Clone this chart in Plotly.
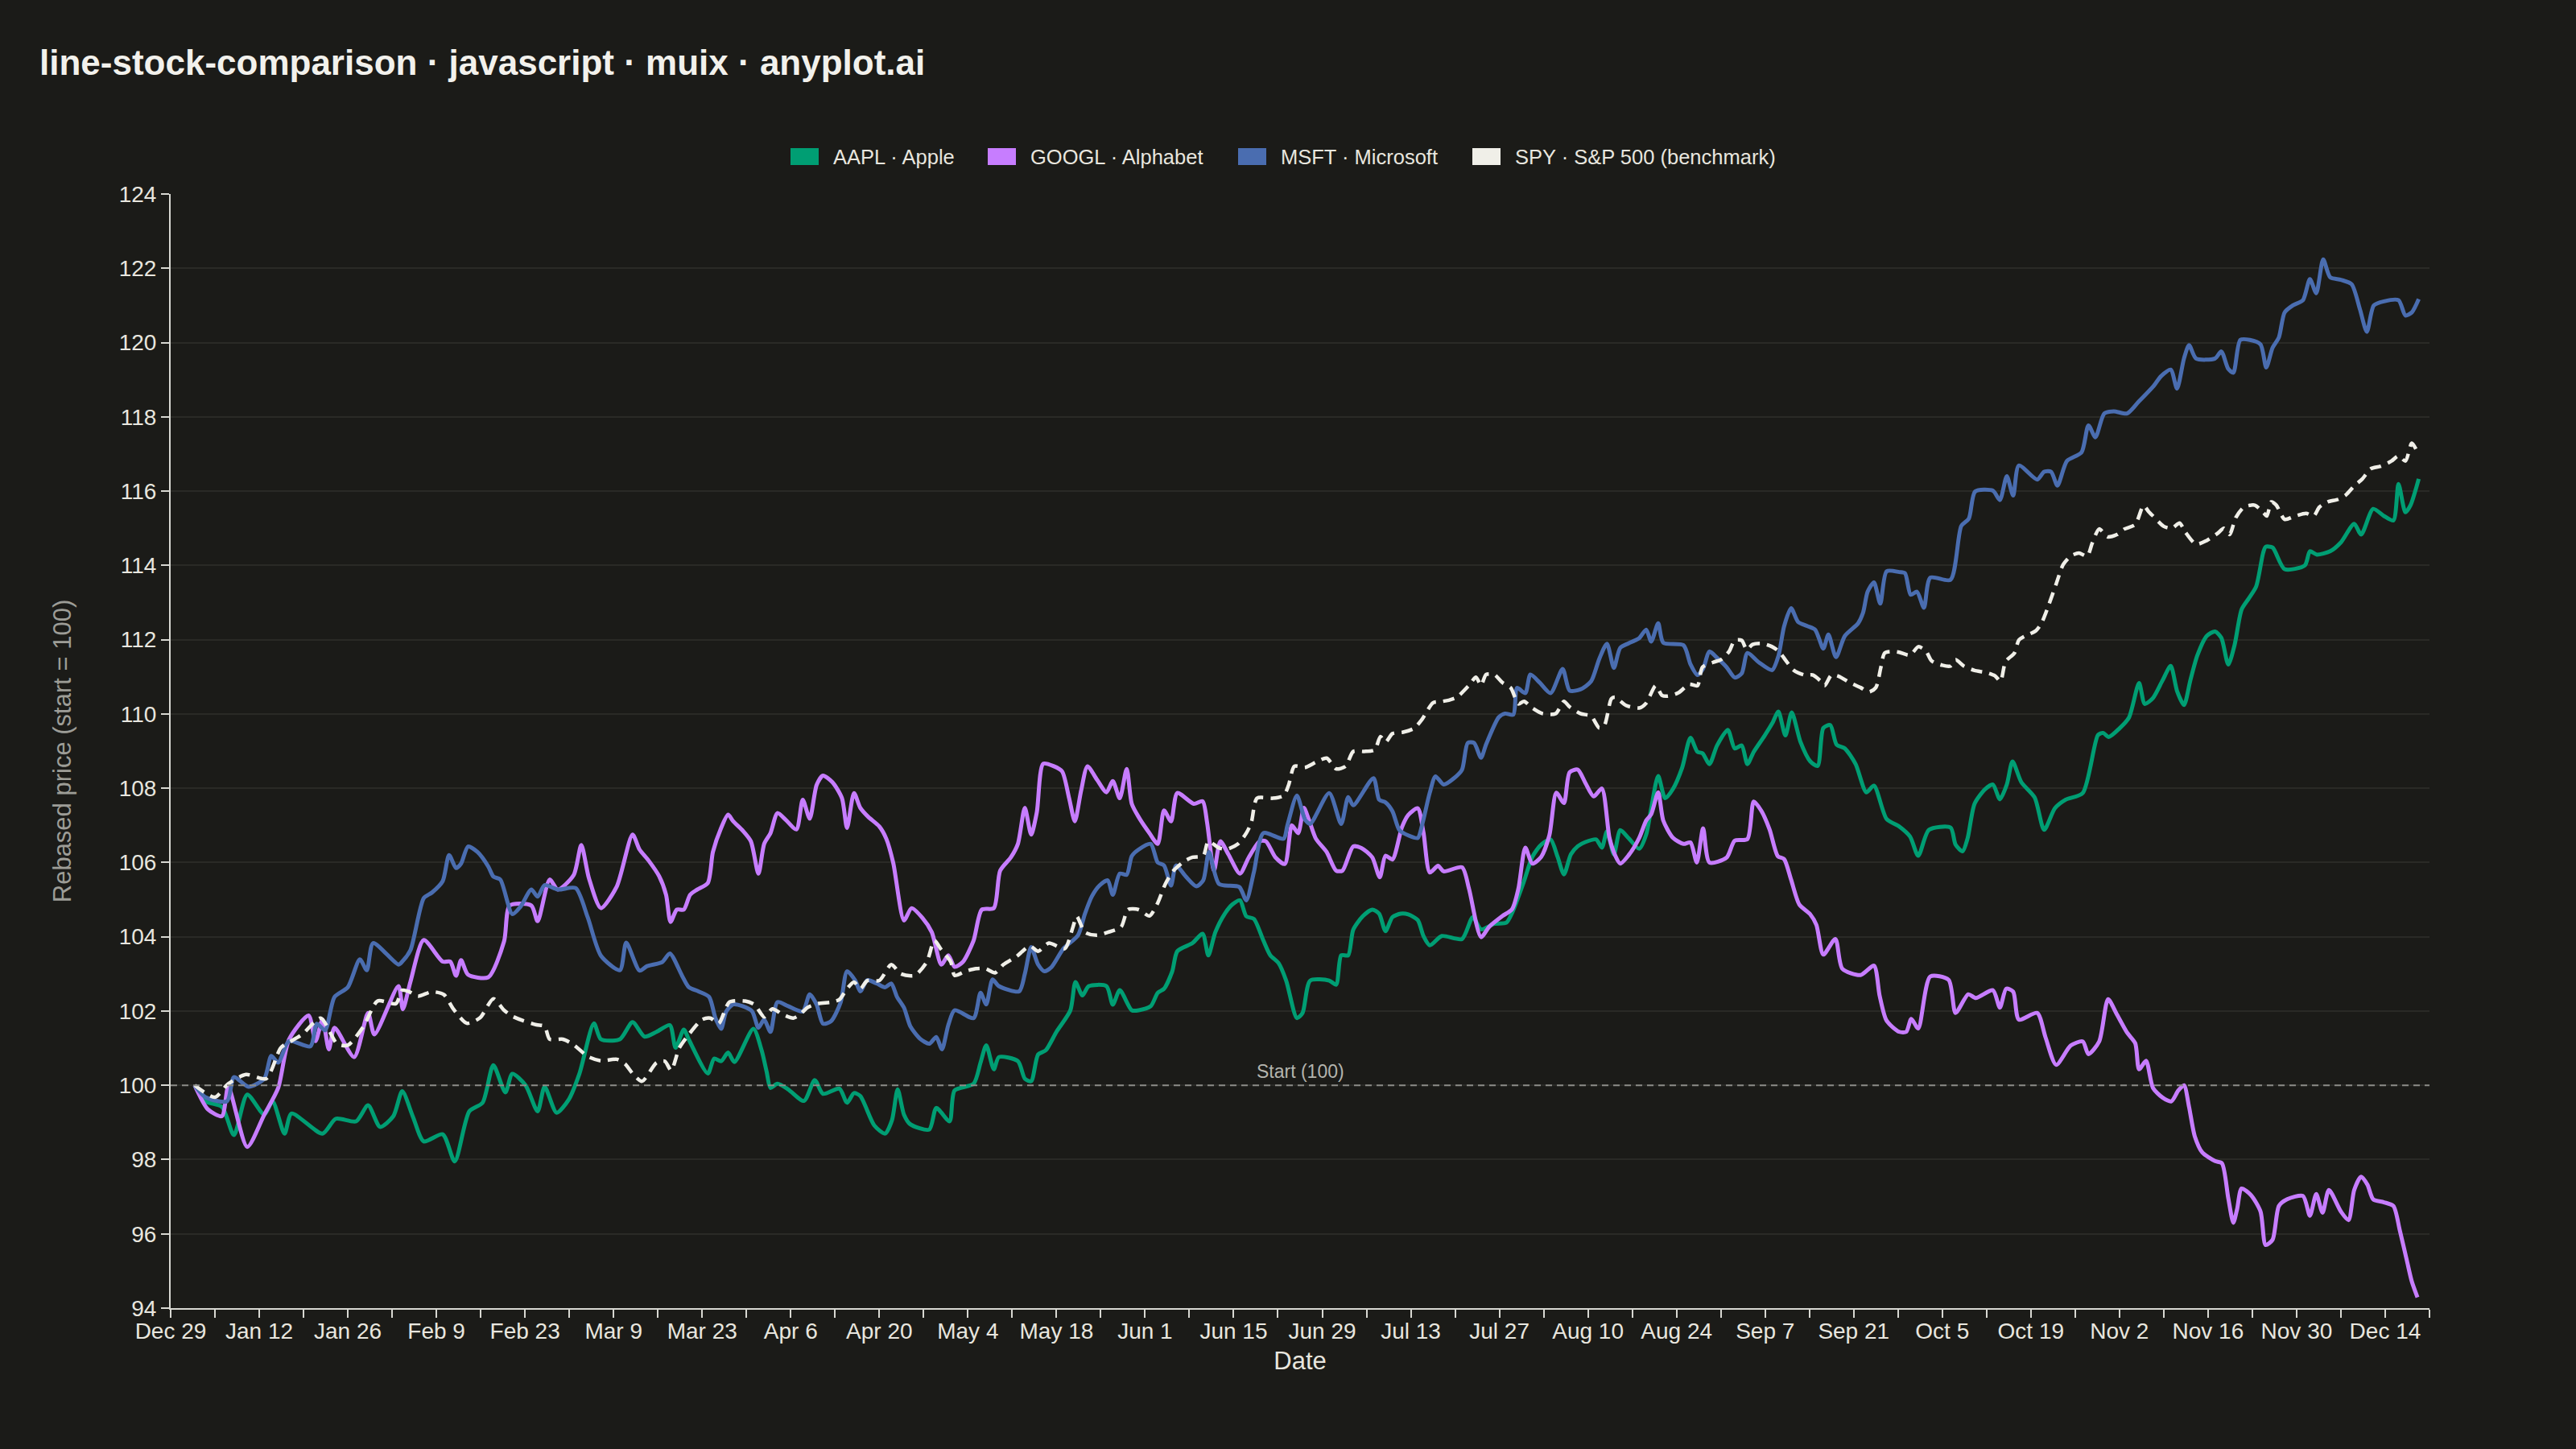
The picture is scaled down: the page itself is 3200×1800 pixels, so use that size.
import pandas as pd
import plotly.graph_objects as go

# day offsets are days since 2025-12-29 (first axis tick), values are rebased prices
start = pd.Timestamp("2025-12-29")

aapl_day = [3.8, 5.5, 8.1, 10.0, 12.1, 14.8, 16.1, 18.0, 19.1, 24.0, 26.1, 29.3, 31.2, 33.1, 35.2,
            36.6, 38.3, 40.0, 43.0, 44.9, 47.2, 49.3, 51.0, 52.9, 54.0, 56.1, 58.0, 59.1, 61.0, 62.9,
            64.6, 66.9, 68.0, 71.0,
            73.0, 74.9, 76.8, 78.9, 79.8, 81.1, 81.9, 84.9, 85.9, 87.0, 88.1, 89.1, 92.1, 93.4, 94.2,
            94.8, 95.9, 97.6, 100.1, 101.8, 103.1, 105.7, 106.9, 108.0, 109.0, 111.2,
            112.9, 114.0, 114.9, 115.9, 116.9, 119.9, 121.0, 123.1, 123.9, 126.9, 128.0, 128.9, 130.1,
            130.9, 133.9, 135.0, 136.0, 137.1, 138.3, 140.0, 142.2, 143.0, 144.1, 145.1, 147.9, 148.9,
            150.0, 151.9,
            153.0, 154.9, 156.0, 157.0, 158.3, 159.1, 161.5, 163.1, 164.0, 165.1, 166.6, 167.8, 169.0,
            170.0, 171.2, 172.7, 173.8, 175.1, 176.3, 178.0, 178.9, 180.1, 183.1, 184.2, 185.0, 186.1,
            186.9, 188.4, 189.9, 191.0, 192.0,
            193.1, 194.4, 195.6, 197.1, 198.0, 199.0, 200.9, 204.1, 205.8, 207.1, 209.2, 211.1, 212.0,
            213.9, 215.2, 216.6, 218.1, 219.2, 220.2, 221.3, 222.4, 223.6, 225.3, 226.2, 227.0, 228.1,
            229.1, 230.4, 232.1,
            233.2, 234.0, 235.1, 236.2, 237.4, 238.9, 240.2, 241.3, 242.1, 243.2, 244.4, 246.1, 247.2,
            248.3, 249.2, 250.2, 251.9, 253.1, 254.1, 255.2, 256.2, 257.6, 259.1, 260.3, 261.2, 262.3,
            263.3, 264.6, 266.3, 268.0, 269.2, 271.2,
            273.2, 274.9, 276.2, 277.9, 281.3, 282.1, 283.2, 284.0, 285.1, 286.8, 288.0, 289.1, 290.2,
            291.1, 292.5, 294.6, 296.1, 297.8, 299.5, 302.2, 304.6, 305.4, 306.3, 308.0, 309.5, 311.1,
            312.0,
            313.3, 314.8, 316.1, 317.1, 318.2, 319.2, 320.3, 321.8, 323.1, 324.1, 325.2, 326.2, 327.3,
            328.4, 329.6, 330.7, 331.1, 332.2, 334.1, 337.3, 338.1, 339.2, 341.3, 343.0, 345.1, 346.2,
            348.1, 349.8, 351.3, 352.1, 353.2, 354.0, 355.3]
aapl_val = [100.0, 99.57, 99.42, 98.66, 99.75, 99.21, 99.57, 98.70, 99.24, 98.70, 99.10, 99.03, 99.46, 98.88, 99.17,
            99.84, 99.15, 98.49, 98.68, 97.95, 99.30, 99.53, 100.54, 99.81, 100.31, 100.0, 99.30, 99.96, 99.26, 99.61,
            100.31, 101.67, 101.24, 101.24,
            101.70, 101.31, 101.44, 101.62, 101.01, 101.50, 101.23, 100.32, 100.72, 100.65, 100.88, 100.63, 101.52, 100.94, 100.36,
            99.93, 100.04, 99.89, 99.58, 100.14, 99.77, 99.91, 99.53, 99.79, 99.71, 98.92,
            98.70, 99.06, 99.89, 99.21, 98.95, 98.81, 99.39, 99.03, 99.86, 100.04, 100.61, 101.08, 100.43,
            100.76, 100.65, 100.18, 100.11, 100.83, 100.94, 101.44, 102.02, 102.78, 102.42, 102.67, 102.67, 102.17,
            102.56, 102.02,
            102.02, 102.13, 102.49, 102.60, 103.07, 103.61, 103.83, 104.08, 103.50, 104.12, 104.62, 104.87, 104.98,
            104.55, 104.48, 103.90, 103.50, 103.29, 102.82, 101.81, 101.95, 102.82, 102.82, 102.71, 103.50, 103.50,
            104.19, 104.55, 104.73, 104.62, 104.15,
            104.53, 104.62, 104.60, 104.45, 104.02, 103.77, 104.02, 103.94, 104.53, 104.20, 104.35, 104.38, 104.64,
            105.50, 106.15, 106.48, 106.62, 106.15, 105.68, 106.22, 106.44, 106.55, 106.62, 106.40, 106.84, 106.22,
            106.87, 106.66, 106.37,
            106.75, 107.46, 108.33, 107.73, 107.97, 108.56, 109.36, 108.98, 108.94, 108.65, 109.15, 109.57, 109.07,
            109.15, 108.65, 108.98, 109.41, 109.74, 110.06, 109.42, 110.04, 109.24, 108.73, 108.60, 109.62, 109.70,
            109.17, 109.07, 108.65, 107.89, 108.07, 107.17,
            106.97, 106.70, 106.18, 106.88, 106.94, 106.48, 106.30, 106.65, 107.58, 107.98, 108.10, 107.70, 108.10,
            108.72, 108.16, 107.75, 106.88, 107.46, 107.69, 107.87, 109.43, 109.49, 109.38, 109.61, 109.90, 110.83,
            110.27,
            110.43, 110.90, 111.29, 110.62, 110.24, 110.90, 111.57, 112.10, 112.22, 112.05, 111.33, 111.86, 112.81,
            113.10, 113.43, 114.33, 114.50, 114.48, 113.90, 114.00, 114.38, 114.29, 114.38, 114.62, 115.12, 114.83,
            115.52, 115.33, 115.21, 116.19, 115.43, 115.62, 116.33]

googl_day = [3.8, 5.9, 8.1, 9.1, 12.1, 14.8, 17.0, 18.7, 21.8, 22.9, 24.0, 25.0, 25.9, 29.0, 31.2, 32.2, 36.0,
             36.7, 37.9, 40.0, 43.0, 44.2, 45.1, 45.9, 47.0, 50.2, 52.7, 53.6, 57.0, 58.0, 59.9, 61.2, 63.7,
             64.9, 66.1, 68.0, 70.5,
             73.0, 74.1, 75.5, 77.2, 78.3, 79.0, 80.0, 81.1, 82.1, 83.2, 84.9, 85.7, 87.0, 88.1, 88.9, 90.4,
             91.7, 92.9, 93.8, 94.8, 95.9, 97.2, 98.9, 99.9, 101.0, 102.1, 103.1, 104.6, 106.1, 106.9, 108.0,
             109.0, 110.3, 112.0, 113.1,
             114.2, 115.9, 117.1, 118.8, 120.3, 121.8, 122.9, 123.9, 125.2, 126.9, 128.2, 130.1, 131.1, 132.8,
             133.9, 135.0, 136.0, 136.9, 137.9, 139.6, 140.9, 142.0, 142.9, 143.9, 144.9, 146.4, 147.9, 148.9,
             150.0, 151.1, 151.9,
             153.0, 154.7, 156.0, 157.0, 158.1, 159.1, 161.7, 163.1, 163.8, 164.9, 165.9, 167.2, 169.0, 170.4,
             172.1, 173.1, 174.6, 176.1, 177.2, 178.2, 179.1, 179.9, 181.0, 182.7, 184.2, 185.2, 186.9, 188.2,
             189.9, 191.1, 192.0,
             193.1, 194.6, 195.6, 197.1, 198.0, 199.0, 200.3, 201.2, 204.1, 205.2, 207.1, 208.4, 210.5, 212.0,
             213.0, 214.1, 215.2, 216.6, 217.9, 219.0, 220.2, 221.1, 222.4, 223.6, 224.9, 226.2, 227.4, 228.3,
             229.1, 230.4, 232.1,
             233.2, 234.0, 235.1, 235.9, 237.4, 239.1, 240.2, 241.2, 242.2, 243.2, 245.9, 247.2, 249.2, 250.2,
             251.4, 252.7, 254.0, 255.0, 256.1, 257.4, 259.1, 260.1, 261.2, 263.1, 264.2, 267.1, 269.2, 270.1,
             271.2,
             273.2, 274.3, 275.1, 276.2, 278.1, 281.0, 282.1, 284.1, 285.3, 288.0, 289.1, 290.1, 291.2, 292.1,
             295.0, 296.3, 298.0, 300.3, 302.2, 303.1, 304.8, 306.2, 307.5, 309.2, 310.5, 311.1, 312.2,
             313.3, 314.8, 316.2, 317.3, 318.2, 319.0, 319.9, 321.1, 323.1, 324.2, 325.2, 326.0, 326.6, 327.3,
             328.8, 330.3, 331.1, 332.2, 333.2, 334.5, 337.0, 338.1, 339.1, 340.1, 341.1, 343.0, 344.2, 345.1,
             346.2, 347.2, 348.1, 349.8, 351.3, 352.3, 353.4, 354.2, 355.1]
googl_val = [100.0, 99.35, 99.17, 99.96, 98.34, 99.21, 99.93, 101.23, 101.88, 101.19, 101.77, 100.97, 101.55, 100.76, 101.95, 101.37, 102.67,
             102.05, 102.79, 103.91, 103.33, 103.33, 102.95, 103.37, 102.98, 102.91, 103.88, 104.84, 104.84, 104.42, 105.54, 105.27, 105.66,
             106.47, 105.58, 104.77, 105.35,
             106.75, 106.35, 106.06, 105.63, 105.13, 104.40, 104.73, 104.73, 105.13, 105.27, 105.45, 106.28, 106.93, 107.29, 107.11, 106.86,
             106.57, 105.70, 106.50, 106.79, 107.33, 107.15, 106.89, 107.69, 107.18, 108.09, 108.34, 108.16, 107.73, 106.93, 107.87,
             107.47, 107.22, 106.97, 106.64,
             105.99, 104.44, 104.77, 104.51, 104.12, 103.25, 103.50, 103.19, 103.32, 103.90, 104.73, 104.77, 105.78, 106.14,
             106.50, 107.47, 106.75, 107.36, 108.66, 108.59, 108.45, 107.73, 107.11, 107.94, 108.59, 108.23, 107.89, 108.19,
             107.73, 108.52, 107.58,
             107.22, 106.79, 106.50, 107.40, 107.11, 107.87, 107.58, 107.65, 107.08, 105.78, 106.57, 106.21, 105.70, 106.14,
             106.57, 106.57, 106.14, 105.96, 107.00, 106.79, 107.47, 107.15, 106.64, 106.28, 105.78, 105.78, 106.43, 106.39,
             106.14, 105.60, 106.18,
             106.08, 106.95, 107.28, 107.46, 106.81, 105.73, 105.91, 105.76, 105.87, 105.29, 103.99, 104.27, 104.56, 104.74,
             105.29, 106.40, 105.97, 106.15, 106.73, 107.88, 107.60, 108.43, 108.50, 108.14, 107.78, 107.99, 106.66, 106.19,
             105.97, 106.19, 106.66,
             107.13, 107.30, 107.89, 107.13, 106.67, 106.50, 106.54, 106.00, 106.92, 106.00, 106.13, 106.59, 106.63, 107.64,
             107.39, 106.89, 106.17, 106.09, 105.54, 104.87, 104.61, 104.32, 103.52, 103.94, 103.14, 102.97, 103.22, 102.41,
             101.74,
             101.44, 101.44, 101.79, 101.53, 102.93, 102.84, 101.95, 102.45, 102.35, 102.56, 102.09, 102.60, 102.52, 101.77,
             101.95, 101.30, 100.55, 101.07, 101.18, 100.84, 101.18, 102.32, 101.94, 101.42, 101.13, 100.43, 100.66,
             99.93, 99.67, 99.57, 99.86, 100.00, 99.42, 98.63, 98.19, 97.96, 97.90, 96.96, 96.30, 96.67, 97.22,
             97.04, 96.60, 95.70, 95.84, 96.75, 96.93, 97.02, 96.49, 97.07, 96.57, 97.18, 96.60, 96.37, 97.18,
             97.54, 97.32, 96.93, 96.85, 96.75, 96.10, 95.30, 94.72, 94.29]

msft_day = [3.8, 5.5, 8.9, 10.0, 12.3, 14.8, 15.9, 17.0, 18.7, 22.1, 23.1, 24.4, 25.9, 28.0, 29.9, 31.0, 32.0, 36.0,
            36.6, 37.9, 40.0, 41.3, 43.0, 44.0, 45.1, 45.9, 47.0, 48.5, 50.2, 51.0, 52.1, 54.0, 55.3, 57.0, 58.0,
            59.1, 61.2, 64.0, 65.9, 68.0, 71.0, 72.0,
            74.1, 75.3, 77.7, 78.9, 80.8, 81.9, 83.4, 85.1, 86.1, 87.0, 87.8, 88.9, 90.4, 91.9, 92.9, 93.8, 94.8,
            95.9, 97.6, 99.9, 101.0, 102.1, 103.1, 104.4, 105.9, 106.9, 108.2, 109.0, 110.1, 111.6,
            112.9, 113.9, 114.8, 115.9, 116.9, 118.4, 119.9, 121.0, 121.9, 122.9, 123.9, 126.9, 128.0, 128.9,
            129.9, 130.9, 134.1, 135.0, 136.0, 137.1, 138.1, 139.2, 141.1, 143.4, 144.5, 145.6, 146.8, 148.1,
            148.9, 150.0, 151.1, 151.9,
            153.0, 154.9, 156.0, 157.0, 158.1, 158.9, 160.4, 162.1, 163.2, 164.1, 165.7, 168.9, 170.0, 171.2,
            172.7, 175.9, 176.5, 178.0, 179.3, 180.1, 183.1, 185.0, 186.1, 186.9, 190.1, 191.0, 192.0,
            193.1, 194.2, 195.6, 197.1, 197.8, 199.0, 199.9, 201.2, 202.9, 204.1, 205.0, 206.0, 207.1, 207.9,
            209.9, 210.9, 212.2, 212.8, 214.1, 214.9, 216.4, 218.1, 220.0, 221.1, 222.8, 224.5, 225.8, 227.0,
            228.1, 229.1, 230.8, 232.1,
            233.2, 234.0, 235.1, 235.9, 239.1, 240.2, 241.3, 242.2, 243.2, 244.4, 245.9, 247.2, 248.3, 249.2,
            251.0, 253.1, 254.1, 255.0, 256.1, 257.2, 258.6, 259.9, 261.2, 262.0, 263.2, 264.6, 266.7, 267.5,
            268.2, 269.2, 270.2, 271.2,
            273.2, 274.1, 275.0, 276.0, 277.1, 278.1, 281.3, 283.0, 284.2, 285.2, 288.0, 289.1, 290.2, 291.2,
            292.1, 295.0, 296.1, 297.2, 298.2, 299.7, 302.0, 303.1, 304.2, 305.6, 307.1, 309.2, 311.0,
            313.3, 314.6, 316.1, 317.1, 318.2, 319.0, 320.1, 323.1, 324.1, 325.2, 326.0, 327.1, 328.6, 330.3,
            331.2, 332.2, 333.2, 334.1, 335.4, 337.0, 338.1, 339.1, 340.2, 341.3, 343.0, 344.7, 346.0, 347.1,
            348.2, 349.8, 352.1, 353.2, 354.2, 355.3]
msft_val = [100.0, 99.68, 99.57, 100.22, 99.96, 100.18, 100.79, 100.61, 101.19, 101.05, 101.66, 101.48, 102.38, 102.64, 103.39, 103.10, 103.83, 103.25,
            103.33, 103.64, 105.04, 105.19, 105.50, 106.20, 105.85, 105.97, 106.43, 106.28, 105.89, 105.62, 105.54, 104.61, 104.81, 105.27, 105.08,
            105.39, 105.27, 105.31, 104.53, 103.49, 103.10, 103.84,
            103.09, 103.21, 103.32, 103.55, 102.96, 102.64, 102.53, 102.38, 101.81, 101.52, 101.99, 102.18, 102.13, 101.99, 101.55, 101.77, 101.44,
            102.24, 102.13, 101.99, 102.45, 102.17, 101.66, 101.73, 102.24, 103.07, 102.82, 102.53, 102.83, 102.74,
            102.64, 102.74, 102.38, 102.09, 101.59, 101.26, 101.12, 101.30, 100.97, 101.62, 102.02, 101.81, 102.49, 102.18,
            102.85, 102.67, 102.53, 103.00, 103.72, 103.25, 103.07, 103.18, 103.68, 104.04, 104.62, 105.09, 105.38, 105.52,
            105.13, 105.70, 105.67, 106.17,
            106.35, 106.50, 106.00, 105.92, 105.38, 105.92, 105.63, 105.36, 105.52, 106.28, 105.42, 105.34, 104.98, 105.74,
            106.79, 106.64, 107.00, 107.80, 107.15, 107.04, 107.87, 107.04, 107.76, 107.54, 108.27, 107.69, 107.62,
            107.38, 106.87, 106.73, 106.66, 107.02, 107.88, 108.32, 108.10, 108.28, 108.50, 109.22, 109.22, 108.82, 109.18,
            109.91, 110.01, 109.98, 110.70, 110.56, 111.06, 110.84, 110.56, 111.21, 110.63, 110.66, 110.88, 111.49, 111.89,
            111.24, 111.78, 111.93, 112.04,
            112.27, 111.95, 112.44, 111.92, 111.85, 111.34, 111.05, 111.22, 111.68, 111.51, 111.26, 110.98, 111.09, 111.64,
            111.39, 111.18, 111.56, 112.36, 112.85, 112.48, 112.37, 112.27, 111.76, 112.14, 111.53, 112.10, 112.44, 112.74,
            113.29, 113.54, 112.97, 113.84,
            113.82, 113.79, 113.21, 113.29, 112.86, 113.67, 113.61, 115.06, 115.26, 115.99, 116.01, 115.76, 116.40, 115.88,
            116.69, 116.31, 116.52, 116.52, 116.15, 116.81, 117.04, 117.77, 117.45, 118.09, 118.15, 118.09, 118.40,
            118.81, 119.10, 119.27, 118.76, 119.57, 119.93, 119.57, 119.57, 119.76, 119.29, 119.19, 120.07, 120.07, 119.95,
            119.33, 119.86, 120.14, 120.81, 121.00, 121.14, 121.71, 121.33, 122.24, 121.76, 121.69, 121.57, 120.90, 120.29,
            121.00, 121.11, 121.14, 120.73, 120.81, 121.17]

spy_day = [3.8, 7.0, 9.1, 11.9, 15.1, 17.4, 18.7, 20.8, 23.7, 26.3, 28.0, 30.5, 32.7, 35.6,
           36.6, 37.7, 39.1, 41.3, 43.2, 44.7, 46.8, 48.9, 51.0, 52.7, 54.0, 55.7, 57.8, 59.1, 59.9, 62.0,
           63.7, 65.9, 68.0, 70.5, 71.8,
           73.0, 74.5, 76.8, 78.1, 79.1, 80.4, 81.9, 84.0, 85.3, 86.6, 88.3, 90.8, 92.3, 93.8, 95.1, 96.7,
           98.4, 99.5, 100.6, 102.3, 104.4, 105.7, 106.9, 108.0, 109.0, 110.1, 112.0,
           113.9, 115.4, 117.6, 119.5, 120.7, 121.8, 123.3, 123.9, 125.6, 127.3, 128.8, 130.3, 131.6, 133.7,
           135.8, 137.1, 138.8, 141.3, 142.6, 143.2, 144.5, 146.4, 148.1, 150.2, 151.3,
           153.0, 154.7, 156.0, 157.2, 158.5, 160.2, 161.5, 163.2, 164.0, 165.7, 167.0, 168.7, 170.0, 170.8,
           171.7, 174.2, 175.9, 176.7, 177.6, 179.3, 181.0, 182.7, 184.2, 185.7, 186.9, 188.6, 190.3, 191.2,
           192.0,
           193.1, 194.8, 196.5, 197.8, 199.5, 200.7, 202.0, 203.3, 205.2, 206.3, 207.1, 207.9, 209.2, 210.5,
           211.8, 213.0, 213.9, 215.2, 216.8, 218.9, 220.2, 221.1, 222.8, 224.5, 225.8, 226.6, 227.7, 228.3,
           230.0, 232.1,
           233.2, 234.7, 235.7, 236.6, 238.3, 240.0, 241.3, 242.1, 243.8, 245.1, 246.3, 247.2, 248.3, 249.1,
           250.0, 251.4, 253.1, 254.2, 255.3, 256.5, 258.2, 259.5, 260.8, 261.4, 262.5, 263.7, 265.4, 267.1,
           268.4, 269.5, 270.3, 270.9, 272.2,
           273.2, 274.9, 276.2, 277.4, 278.3, 280.0, 281.3, 282.1, 283.4, 285.1, 286.8, 288.3, 289.2, 290.0,
           291.4, 292.1, 293.1, 294.8, 295.7, 296.9, 298.0, 299.1, 300.3, 301.6, 302.9, 303.7, 304.8, 306.1,
           307.6, 308.8, 310.5, 311.8, 312.6,
           313.3, 315.0, 316.3, 317.5, 318.4, 320.1, 321.8, 323.5, 324.5, 325.4, 326.4, 327.7, 329.4, 330.7,
           331.3, 332.0, 332.8, 334.1, 335.8, 337.5, 338.7, 339.6, 340.9, 342.6, 343.8, 345.1, 346.4, 347.7,
           349.3, 351.0, 352.1, 353.2, 354.2, 355.1]
spy_val = [100.0, 99.68, 100.04, 100.29, 100.18, 101.01, 101.16, 101.37, 101.81, 101.12, 101.08, 101.59, 102.27, 102.20,
           102.56, 102.52, 102.40, 102.52, 102.44, 102.05, 101.67, 101.82, 102.33, 102.02, 101.86, 101.74, 101.63, 101.59, 101.24, 101.24,
           101.09, 100.78, 100.66, 100.70, 100.58,
           100.32, 100.11, 100.61, 100.65, 100.40, 101.01, 101.37, 101.77, 101.81, 101.66, 102.24, 102.27, 102.17, 101.84, 102.06, 101.91,
           101.81, 101.91, 102.09, 102.20, 102.24, 102.31, 102.60, 102.78, 102.60, 102.82, 102.82,
           103.25, 103.00, 102.96, 103.32, 103.90, 103.65, 103.32, 102.96, 103.07, 103.14, 103.14, 103.03, 103.25, 103.47,
           103.75, 103.61, 103.83, 103.68, 104.26, 104.55, 104.12, 104.04, 104.12, 104.26, 104.73,
           104.73, 104.56, 104.91, 105.42, 105.78, 106.03, 106.14, 106.18, 106.57, 106.39, 106.36, 106.50, 106.79, 107.08,
           107.73, 107.73, 107.80, 108.09, 108.59, 108.56, 108.70, 108.81, 108.52, 108.59, 108.99, 108.99, 109.03, 109.39,
           109.24,
           109.47, 109.51, 109.61, 109.86, 110.30, 110.33, 110.37, 110.45, 110.77, 110.99, 110.77, 111.06, 111.06, 110.84,
           110.70, 110.27, 110.34, 110.16, 110.01, 110.01, 110.34, 110.19, 110.01, 109.94, 109.62, 109.69, 110.41, 110.45,
           110.23, 110.16,
           110.29, 110.76, 110.50, 110.48, 110.57, 110.80, 110.76, 111.26, 111.39, 111.47, 111.68, 111.98, 111.98, 111.73,
           111.87, 111.90, 111.81, 111.68, 111.43, 111.18, 111.05, 111.05, 110.88, 110.76, 111.05, 111.01, 110.84, 110.71,
           110.59, 110.71, 111.26, 111.64, 111.68,
           111.66, 111.58, 111.81, 111.70, 111.43, 111.31, 111.29, 111.46, 111.29, 111.17, 111.12, 111.03, 110.88, 111.41,
           111.64, 111.99, 112.10, 112.24, 112.45, 112.97, 113.50, 114.02, 114.25, 114.33, 114.25, 114.60, 114.98, 114.77,
           114.83, 114.98, 115.10, 115.61, 115.45,
           115.33, 115.05, 115.00, 115.14, 114.90, 114.57, 114.67, 114.86, 115.00, 114.83, 115.29, 115.57, 115.62, 115.43,
           115.33, 115.71, 115.62, 115.24, 115.33, 115.40, 115.33, 115.57, 115.71, 115.78, 115.90, 116.14, 116.33, 116.60,
           116.67, 116.81, 116.95, 116.81, 117.29, 117.05]

names = ["AAPL · Apple", "GOOGL · Alphabet", "MSFT · Microsoft", "SPY · S&P 500 (benchmark)"]
colors = ["#009e73", "#c77dff", "#4a6db0", "#f0efe8"]
series = [(aapl_day, aapl_val), (googl_day, googl_val), (msft_day, msft_val), (spy_day, spy_val)]

BG = "#1b1b18"
FONT = "Liberation Sans, Arial, sans-serif"
W, H = 3200, 1800
ML, MR, MT, MB = 212, 182, 241, 175


def px_x(x):
    return (x - ML) / (W - ML - MR)


def px_y(y):
    return (H - MB - y) / (H - MT - MB)


fig = go.Figure()

for name, color, (days, vals) in zip(names, colors, series):
    dates = start + pd.to_timedelta(days, unit="D")
    is_spy = name.startswith("SPY")
    fig.add_trace(go.Scatter(
        x=dates, y=vals, mode="lines", name=name, showlegend=False,
        line=dict(color=color, width=4.5 if is_spy else 5, shape="spline", smoothing=0.7,
                  dash="14px,9px" if is_spy else "solid"),
        hoverinfo="skip",
    ))

# legend drawn by hand so the swatches can be wide rectangles
legend_left = [982, 1227, 1538, 1829]
for left, name, color in zip(legend_left, names, colors):
    fig.add_shape(type="rect", xref="paper", yref="paper",
                  x0=px_x(left), x1=px_x(left + 35), y0=px_y(205), y1=px_y(184),
                  fillcolor=color, line=dict(width=0))
    fig.add_annotation(xref="paper", yref="paper", x=px_x(left + 51), y=px_y(195),
                       xanchor="left", yanchor="middle", showarrow=False, text=name,
                       font=dict(size=25.5, color="#e8e6df", family=FONT))

fig.add_hline(y=100, line=dict(color="#8c8c88", width=2, dash="8px,6px"))
fig.add_annotation(x=0.5, xref="paper", y=100, yref="y", text="Start (100)", showarrow=False,
                   yanchor="bottom", yshift=2, font=dict(size=23, color="#b4b4ae", family=FONT))

fig.update_layout(
    width=W, height=H, autosize=False,
    paper_bgcolor=BG, plot_bgcolor=BG,
    margin=dict(l=ML, r=MR, t=MT, b=MB),
    font=dict(family=FONT, color="#e8e6df", size=28),
    title=dict(text="<b>line-stock-comparison · javascript · muix · anyplot.ai</b>",
               x=49 / W, xanchor="left", xref="container",
               y=1 - 78 / H, yanchor="middle", yref="container",
               font=dict(size=44, color="#f2f1ec", family=FONT)),
    showlegend=False,
)

fig.update_xaxes(
    range=["2025-12-29", "2026-12-21"],
    type="date", tick0="2025-12-29", dtick=14 * 86400000, tickformat="%b %-d",
    showgrid=False, zeroline=False,
    showline=True, linecolor="#d8d8d2", linewidth=2,
    ticks="outside", ticklen=10, tickwidth=2, tickcolor="#d8d8d2",
    ticklabelstandoff=-8,
    tickfont=dict(size=28, color="#e8e6df"),
    minor=dict(dtick=7 * 86400000, tick0="2025-12-29", ticks="outside", ticklen=10,
               tickwidth=2, tickcolor="#d8d8d2", showgrid=False),
    title=dict(text="Date", font=dict(size=31, color="#e8e6df"), standoff=12),
)

fig.update_yaxes(
    range=[94, 124], dtick=2, tick0=94,
    showgrid=True, gridcolor="#2a2a26", gridwidth=2, zeroline=False,
    showline=True, linecolor="#d8d8d2", linewidth=2,
    ticks="outside", ticklen=10, tickwidth=2, tickcolor="#d8d8d2",
    tickfont=dict(size=28, color="#e8e6df"),
    title=dict(text="Rebased price (start = 100)", font=dict(size=31, color="#9d9d97"), standoff=50),
)

fig.write_html("out.html", config={"displayModeBar": False},
               post_script="document.body.style.margin='0';document.body.style.background='#1b1b18';")
